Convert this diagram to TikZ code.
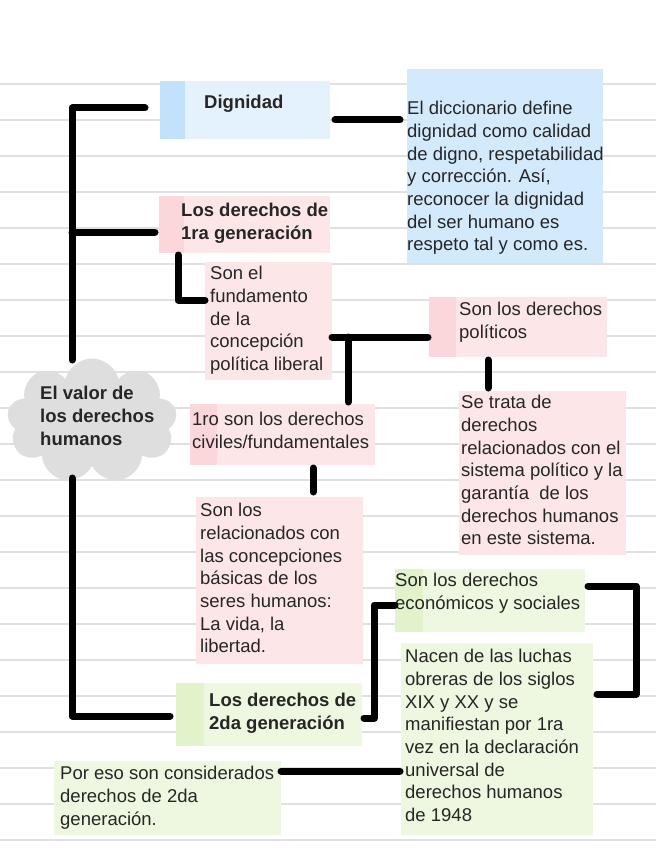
\documentclass[tikz,border=0pt]{standalone}
\usepackage{fontspec}
\setmainfont{Liberation Sans}
\usetikzlibrary{shapes.symbols}
\definecolor{bl}{HTML}{D3EAFC}\definecolor{blS}{HTML}{C2E1FA}\definecolor{bl2}{HTML}{E4F2FD}
\definecolor{pk}{HTML}{FDE6E8}\definecolor{pkS}{HTML}{FBD6DA}
\definecolor{gr}{HTML}{EEF8E0}\definecolor{grS}{HTML}{E2F3CB}
\tikzset{
 box/.style={anchor=north west,inner sep=0pt,fill=#1},
 txt/.style={anchor=north west,inner sep=0pt,align=left,font=\fontsize{18.5}{22.7}\selectfont,text=black!85},
 btxt/.style={txt,font=\fontsize{18.5}{22.7}\selectfont\bfseries},
 con/.style={line width=7pt,line cap=round,line join=round}
}
\newcommand{\bx}[8]{% name, x1,y1,x2,y2, fill, strip, stripwidth
 \node[box=#6,minimum width={#4-#2},minimum height={#5-#3}] (#1) at (#2,#3) {};
 \fill[#7] (#2,#3) rectangle ({#2+#8},#5);}
\begin{document}
\begin{tikzpicture}[x=1pt,y=-1pt]
\useasboundingbox (0,0) rectangle (656,848);
\fill[white] (0,0) rectangle (656,848);
\foreach \y in {84,120,...,840} \draw[black!12,line width=1.3pt] (0,\y) -- (656,\y);
% boxes
\bx{dig}{160}{81}{330}{139}{bl2}{blS}{25}
\bx{def}{407}{69}{603}{263}{bl}{bl}{0}
\bx{pri}{159}{196}{330}{253}{pk}{pkS}{25}
\bx{fun}{205}{262}{332}{380}{pk}{pk}{0}
\bx{pol}{429}{297}{607}{357}{pk}{pkS}{27}
\bx{set}{459}{391}{626}{555}{pk}{pk}{0}
\bx{civ}{190}{404}{375}{465}{pk}{pkS}{27}
\bx{rel}{196}{497}{363}{664}{pk}{pk}{0}
\bx{eco}{395}{569}{585}{632}{gr}{grS}{28}
\bx{nac}{401}{643}{593}{835}{gr}{gr}{0}
\bx{seg}{176}{683}{362}{746}{gr}{grS}{28}
\bx{por}{54}{761}{281}{835}{gr}{gr}{0}
\node[cloud,cloud puffs=9,aspect=1.4,fill=black!13,minimum width=170pt,minimum height=125pt,inner sep=0pt] (val) at (92,421) {};
% texts
\node[btxt] at (204,95) {Dignidad};
\node[txt] at (407,101) {El diccionario define\\dignidad como calidad\\de digno, respetabilidad\\y corrección. Así,\\reconocer la dignidad\\del ser humano es\\respeto tal y como es.};
\node[btxt] at (181,203) {Los derechos de\\1ra generación};
\node[txt] at (210,266) {Son el\\fundamento\\de la\\concepción\\política liberal};
\node[txt] at (459,302) {Son los derechos\\políticos};
\node[txt] at (461,395) {Se trata de\\derechos\\relacionados con el\\sistema político y la\\garantía\ \ de los\\derechos humanos\\en este sistema.};
\node[txt] at (192,412) {1ro son los derechos\\civiles/fundamentales};
\node[txt] at (200,503) {Son los\\relacionados con\\las concepciones\\básicas de los\\seres humanos:\\La vida, la\\libertad.};
\node[txt] at (395,573) {Son los derechos\\económicos y sociales};
\node[txt] at (405,649) {Nacen de las luchas\\obreras de los siglos\\XIX y XX y se\\manifiestan por 1ra\\vez en la declaración\\universal de\\derechos humanos\\de 1948};
\node[btxt] at (209,693) {Los derechos de\\2da generación};
\node[txt] at (60,766) {Por eso son considerados\\derechos de 2da\\generación.};
\node[btxt] at (40,386) {El valor de\\los derechos\\humanos};
% connectors
\draw[con] (145,108) -| (72,360);
\draw[con] (72,232) -- (155,232);
\draw[con] (72,478) |- (170,716);
\draw[con] (335,120) -- (400,120);
\draw[con] (178,255) |- (205,300);
\draw[con] (332,337) -- (428,337);
\draw[con] (348,337) -- (348,402);
\draw[con] (488,360) -- (488,388);
\draw[con] (313,468) -- (313,492);
\draw[con] (364,718) -| (374,605) -- (395,605);
\draw[con] (588,586) -| (636,694) -- (597,694);
\draw[con] (281,771) -- (400,771);
\end{tikzpicture}
\end{document}
